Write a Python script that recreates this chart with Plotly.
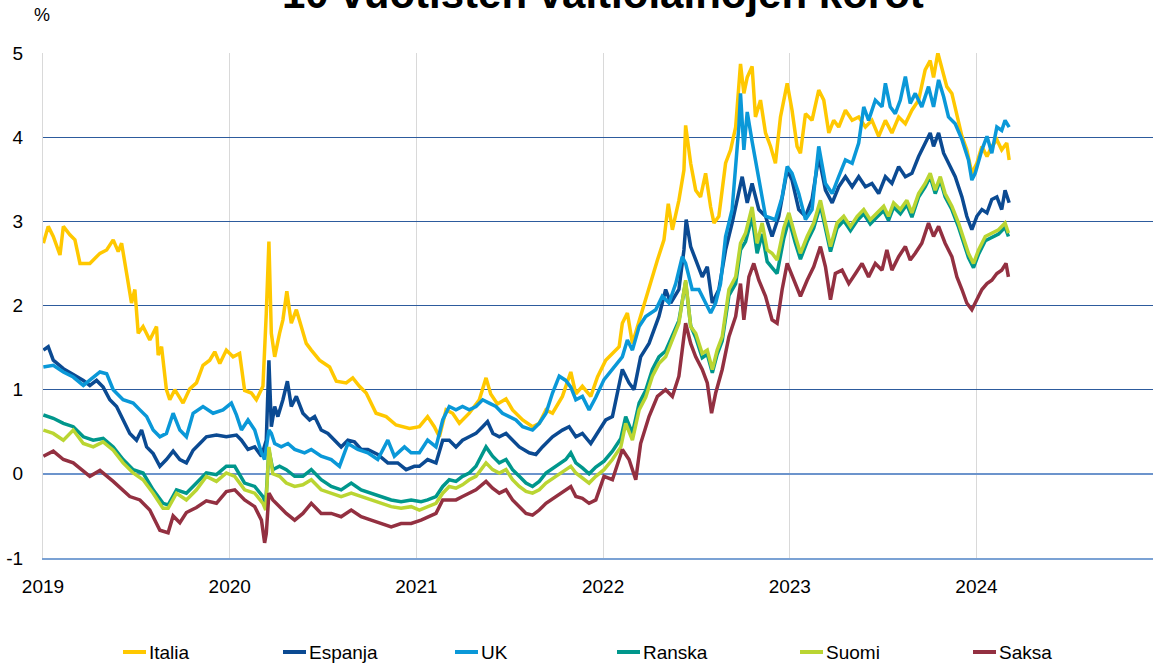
import plotly.graph_objects as go

# ---- data: (decimal year, yield %) ----
italia = [(2019.002, 2.74), (2019.028, 2.94), (2019.055, 2.82), (2019.091, 2.60), (2019.109, 2.94), (2019.144, 2.84),
          (2019.171, 2.78), (2019.198, 2.50), (2019.251, 2.50), (2019.305, 2.62), (2019.341, 2.66), (2019.376, 2.78),
          (2019.403, 2.64), (2019.421, 2.74), (2019.448, 2.38), (2019.474, 2.03), (2019.492, 2.19), (2019.510, 1.67),
          (2019.536, 1.75), (2019.572, 1.59), (2019.608, 1.75), (2019.617, 1.41), (2019.635, 1.51), (2019.661, 1.00),
          (2019.679, 0.88), (2019.706, 1.00), (2019.750, 0.84), (2019.786, 1.01), (2019.822, 1.08), (2019.857, 1.29),
          (2019.893, 1.35), (2019.920, 1.45), (2019.947, 1.31), (2019.982, 1.47), (2020.018, 1.39), (2020.053, 1.43),
          (2020.080, 0.99), (2020.116, 0.96), (2020.143, 0.88), (2020.178, 1.04), (2020.196, 1.91), (2020.210, 2.76),
          (2020.223, 1.67), (2020.241, 1.39), (2020.267, 1.67), (2020.285, 1.83), (2020.306, 2.17), (2020.330, 1.79),
          (2020.357, 1.95), (2020.383, 1.75), (2020.410, 1.55), (2020.437, 1.47), (2020.481, 1.35), (2020.535, 1.27),
          (2020.571, 1.10), (2020.624, 1.08), (2020.659, 1.14), (2020.695, 1.04), (2020.731, 0.96), (2020.784, 0.72),
          (2020.838, 0.68), (2020.891, 0.58), (2020.963, 0.54), (2021.016, 0.56), (2021.060, 0.68), (2021.096, 0.56),
          (2021.123, 0.44), (2021.159, 0.76), (2021.194, 0.72), (2021.230, 0.60), (2021.283, 0.72), (2021.337, 0.88),
          (2021.373, 1.14), (2021.398, 0.95), (2021.434, 0.83), (2021.480, 0.89), (2021.515, 0.76), (2021.569, 0.64),
          (2021.622, 0.56), (2021.658, 0.60), (2021.694, 0.76), (2021.729, 0.72), (2021.782, 0.92), (2021.827, 1.21),
          (2021.854, 0.95), (2021.889, 1.04), (2021.934, 0.92), (2021.970, 1.15), (2022.014, 1.35), (2022.050, 1.43),
          (2022.086, 1.51), (2022.103, 1.79), (2022.130, 1.91), (2022.157, 1.55), (2022.183, 1.74), (2022.219, 2.03),
          (2022.255, 2.30), (2022.291, 2.54), (2022.326, 2.78), (2022.349, 3.21), (2022.371, 2.90), (2022.406, 3.25),
          (2022.433, 3.61), (2022.442, 4.14), (2022.469, 3.69), (2022.496, 3.37), (2022.522, 3.29), (2022.549, 3.57),
          (2022.576, 3.17), (2022.594, 2.98), (2022.620, 3.06), (2022.656, 3.69), (2022.683, 3.85), (2022.710, 4.12),
          (2022.736, 4.87), (2022.754, 4.52), (2022.772, 4.71), (2022.798, 4.84), (2022.816, 4.24), (2022.843, 4.44),
          (2022.870, 4.05), (2022.897, 3.89), (2022.923, 3.69), (2022.950, 4.24), (2022.986, 4.64), (2023.012, 4.32),
          (2023.039, 3.89), (2023.057, 3.81), (2023.084, 4.28), (2023.119, 4.20), (2023.155, 4.56), (2023.182, 4.44),
          (2023.209, 4.05), (2023.235, 4.20), (2023.262, 4.12), (2023.298, 4.32), (2023.334, 4.20), (2023.369, 4.24),
          (2023.405, 4.12), (2023.440, 4.20), (2023.476, 4.01), (2023.512, 4.20), (2023.547, 4.05), (2023.583, 4.24),
          (2023.619, 4.16), (2023.654, 4.32), (2023.690, 4.44), (2023.725, 4.80), (2023.752, 4.91), (2023.770, 4.71),
          (2023.793, 5.00), (2023.815, 4.80), (2023.841, 4.60), (2023.868, 4.52), (2023.895, 4.28), (2023.922, 4.01),
          (2023.948, 3.85), (2023.975, 3.57), (2024.002, 3.69), (2024.029, 3.89), (2024.056, 3.77), (2024.082, 3.89),
          (2024.109, 3.97), (2024.135, 3.85), (2024.162, 3.93), (2024.175, 3.73)]

espanja = [(2019.002, 1.47), (2019.028, 1.51), (2019.055, 1.35), (2019.109, 1.25), (2019.162, 1.18), (2019.216, 1.11),
           (2019.251, 1.05), (2019.287, 1.11), (2019.322, 1.03), (2019.358, 0.88), (2019.394, 0.80), (2019.429, 0.64),
           (2019.465, 0.48), (2019.501, 0.40), (2019.528, 0.52), (2019.555, 0.32), (2019.590, 0.24), (2019.626, 0.09),
           (2019.661, 0.17), (2019.697, 0.27), (2019.733, 0.17), (2019.768, 0.13), (2019.804, 0.28), (2019.840, 0.36),
           (2019.875, 0.44), (2019.929, 0.46), (2019.982, 0.44), (2020.036, 0.46), (2020.063, 0.40), (2020.098, 0.29),
           (2020.134, 0.32), (2020.170, 0.21), (2020.196, 0.40), (2020.210, 1.35), (2020.223, 0.56), (2020.241, 0.80),
           (2020.258, 0.68), (2020.285, 0.88), (2020.309, 1.10), (2020.330, 0.80), (2020.357, 0.92), (2020.392, 0.72),
           (2020.428, 0.64), (2020.455, 0.68), (2020.490, 0.52), (2020.526, 0.48), (2020.561, 0.40), (2020.597, 0.32),
           (2020.633, 0.40), (2020.668, 0.38), (2020.704, 0.29), (2020.740, 0.29), (2020.793, 0.23), (2020.847, 0.13),
           (2020.900, 0.13), (2020.945, 0.05), (2020.989, 0.09), (2021.016, 0.09), (2021.060, 0.17), (2021.105, 0.13),
           (2021.141, 0.40), (2021.176, 0.40), (2021.212, 0.32), (2021.247, 0.40), (2021.283, 0.44), (2021.319, 0.48),
           (2021.355, 0.56), (2021.381, 0.62), (2021.410, 0.48), (2021.444, 0.44), (2021.480, 0.48), (2021.515, 0.40),
           (2021.551, 0.32), (2021.604, 0.25), (2021.640, 0.23), (2021.675, 0.32), (2021.729, 0.44), (2021.782, 0.52),
           (2021.818, 0.56), (2021.854, 0.44), (2021.889, 0.48), (2021.934, 0.36), (2021.970, 0.48), (2022.014, 0.64),
           (2022.050, 0.68), (2022.103, 1.24), (2022.139, 1.08), (2022.166, 1.00), (2022.201, 1.39), (2022.246, 1.55),
           (2022.299, 1.87), (2022.335, 2.19), (2022.362, 2.03), (2022.406, 2.19), (2022.433, 2.66), (2022.445, 3.02),
           (2022.469, 2.70), (2022.496, 2.54), (2022.531, 2.34), (2022.558, 2.46), (2022.585, 2.03), (2022.620, 2.19),
           (2022.656, 2.66), (2022.691, 2.98), (2022.727, 3.37), (2022.745, 3.53), (2022.772, 3.22), (2022.798, 3.45),
           (2022.834, 3.14), (2022.870, 3.06), (2022.905, 2.82), (2022.941, 3.06), (2022.986, 3.61), (2023.012, 3.49),
           (2023.048, 3.14), (2023.084, 3.06), (2023.119, 3.26), (2023.155, 3.77), (2023.191, 3.37), (2023.227, 3.22),
           (2023.262, 3.41), (2023.298, 3.53), (2023.334, 3.41), (2023.369, 3.53), (2023.405, 3.41), (2023.440, 3.45),
           (2023.476, 3.33), (2023.512, 3.53), (2023.547, 3.45), (2023.583, 3.65), (2023.619, 3.53), (2023.654, 3.57),
           (2023.690, 3.77), (2023.725, 3.93), (2023.752, 4.05), (2023.770, 3.89), (2023.797, 4.05), (2023.824, 3.81),
           (2023.850, 3.69), (2023.886, 3.53), (2023.922, 3.29), (2023.948, 3.06), (2023.975, 2.90), (2024.002, 3.06),
           (2024.029, 3.14), (2024.056, 3.10), (2024.082, 3.26), (2024.109, 3.29), (2024.135, 3.14), (2024.153, 3.37),
           (2024.175, 3.22)]

uk = [(2019.002, 1.27), (2019.055, 1.29), (2019.109, 1.21), (2019.162, 1.15), (2019.216, 1.05), (2019.269, 1.15),
      (2019.305, 1.21), (2019.341, 1.19), (2019.376, 1.00), (2019.429, 0.88), (2019.483, 0.84), (2019.519, 0.76),
      (2019.555, 0.68), (2019.590, 0.52), (2019.626, 0.44), (2019.661, 0.48), (2019.697, 0.72), (2019.733, 0.52),
      (2019.768, 0.44), (2019.804, 0.72), (2019.857, 0.80), (2019.911, 0.72), (2019.964, 0.76), (2020.009, 0.84),
      (2020.036, 0.70), (2020.063, 0.52), (2020.098, 0.64), (2020.134, 0.52), (2020.170, 0.25), (2020.187, 0.17),
      (2020.210, 0.52), (2020.223, 0.48), (2020.241, 0.36), (2020.276, 0.32), (2020.312, 0.36), (2020.348, 0.29),
      (2020.401, 0.25), (2020.437, 0.29), (2020.490, 0.21), (2020.544, 0.17), (2020.588, 0.09), (2020.633, 0.36),
      (2020.686, 0.29), (2020.740, 0.25), (2020.793, 0.17), (2020.847, 0.40), (2020.882, 0.21), (2020.936, 0.32),
      (2020.972, 0.25), (2021.016, 0.25), (2021.060, 0.40), (2021.105, 0.32), (2021.141, 0.64), (2021.176, 0.80),
      (2021.212, 0.76), (2021.247, 0.80), (2021.283, 0.76), (2021.319, 0.80), (2021.355, 0.88), (2021.390, 0.84),
      (2021.426, 0.80), (2021.461, 0.72), (2021.497, 0.68), (2021.533, 0.64), (2021.569, 0.56), (2021.622, 0.52),
      (2021.658, 0.60), (2021.694, 0.72), (2021.729, 0.96), (2021.765, 1.16), (2021.800, 1.11), (2021.827, 1.03),
      (2021.854, 0.88), (2021.889, 0.92), (2021.925, 0.76), (2021.961, 0.91), (2022.005, 1.12), (2022.050, 1.24),
      (2022.103, 1.39), (2022.130, 1.59), (2022.157, 1.47), (2022.193, 1.75), (2022.228, 1.87), (2022.282, 1.95),
      (2022.317, 2.11), (2022.353, 2.03), (2022.389, 2.26), (2022.424, 2.58), (2022.442, 2.50), (2022.477, 2.19),
      (2022.513, 2.19), (2022.549, 2.03), (2022.576, 1.91), (2022.603, 2.03), (2022.629, 2.26), (2022.656, 2.82),
      (2022.691, 3.14), (2022.727, 4.12), (2022.736, 4.52), (2022.754, 3.85), (2022.772, 4.30), (2022.798, 3.95),
      (2022.834, 3.50), (2022.870, 3.06), (2022.923, 3.02), (2022.959, 3.29), (2022.986, 3.65), (2023.012, 3.57),
      (2023.048, 3.33), (2023.084, 3.02), (2023.119, 3.14), (2023.155, 3.89), (2023.191, 3.45), (2023.227, 3.33),
      (2023.262, 3.53), (2023.298, 3.73), (2023.334, 3.69), (2023.369, 3.93), (2023.396, 4.36), (2023.422, 4.20),
      (2023.458, 4.44), (2023.494, 4.36), (2023.512, 4.64), (2023.538, 4.36), (2023.565, 4.28), (2023.592, 4.44),
      (2023.619, 4.72), (2023.645, 4.40), (2023.672, 4.52), (2023.707, 4.36), (2023.743, 4.60), (2023.770, 4.36),
      (2023.797, 4.68), (2023.824, 4.48), (2023.850, 4.24), (2023.886, 4.16), (2023.922, 3.97), (2023.957, 3.73),
      (2023.975, 3.49), (2023.993, 3.57), (2024.029, 3.85), (2024.056, 4.01), (2024.082, 3.81), (2024.109, 4.12),
      (2024.135, 4.08), (2024.153, 4.20), (2024.175, 4.12)]

ranska = [(2019.002, 0.70), (2019.055, 0.66), (2019.109, 0.60), (2019.162, 0.56), (2019.216, 0.44), (2019.269, 0.40),
          (2019.322, 0.42), (2019.376, 0.32), (2019.429, 0.17), (2019.483, 0.05), (2019.536, 0.01), (2019.590, -0.19),
          (2019.643, -0.35), (2019.670, -0.37), (2019.715, -0.19), (2019.768, -0.23), (2019.822, -0.11), (2019.875, 0.01),
          (2019.929, -0.01), (2019.982, 0.09), (2020.027, 0.09), (2020.080, -0.11), (2020.134, -0.15), (2020.178, -0.27),
          (2020.193, -0.35), (2020.210, 0.28), (2020.231, 0.05), (2020.267, 0.09), (2020.303, 0.05), (2020.348, -0.03),
          (2020.392, -0.03), (2020.437, 0.05), (2020.490, -0.07), (2020.544, -0.15), (2020.597, -0.19), (2020.651, -0.11),
          (2020.704, -0.19), (2020.758, -0.23), (2020.811, -0.27), (2020.865, -0.31), (2020.918, -0.33), (2020.972, -0.31),
          (2021.025, -0.33), (2021.060, -0.31), (2021.105, -0.27), (2021.141, -0.15), (2021.176, -0.07), (2021.212, -0.09),
          (2021.247, -0.03), (2021.283, 0.01), (2021.319, 0.09), (2021.373, 0.32), (2021.408, 0.21), (2021.444, 0.13),
          (2021.480, 0.17), (2021.515, 0.05), (2021.551, -0.03), (2021.587, -0.11), (2021.622, -0.15), (2021.658, -0.09),
          (2021.694, 0.01), (2021.747, 0.09), (2021.800, 0.17), (2021.827, 0.25), (2021.854, 0.13), (2021.889, 0.07),
          (2021.925, 0.00), (2021.961, 0.08), (2022.005, 0.15), (2022.050, 0.27), (2022.095, 0.42), (2022.121, 0.68),
          (2022.157, 0.48), (2022.193, 0.84), (2022.228, 0.99), (2022.264, 1.24), (2022.299, 1.39), (2022.335, 1.46),
          (2022.371, 1.64), (2022.406, 1.82), (2022.442, 2.28), (2022.469, 1.76), (2022.496, 1.62), (2022.531, 1.38),
          (2022.558, 1.42), (2022.585, 1.20), (2022.611, 1.42), (2022.638, 1.58), (2022.674, 2.12), (2022.710, 2.26),
          (2022.736, 2.66), (2022.763, 2.76), (2022.798, 3.05), (2022.825, 2.62), (2022.852, 2.85), (2022.879, 2.52),
          (2022.905, 2.45), (2022.932, 2.38), (2022.968, 2.80), (2022.995, 3.02), (2023.030, 2.74), (2023.057, 2.55),
          (2023.093, 2.76), (2023.128, 2.92), (2023.164, 3.19), (2023.191, 2.93), (2023.218, 2.64), (2023.253, 2.92),
          (2023.289, 3.01), (2023.325, 2.89), (2023.361, 3.01), (2023.396, 3.09), (2023.431, 2.97), (2023.467, 3.05),
          (2023.503, 3.13), (2023.529, 3.01), (2023.556, 3.17), (2023.592, 3.09), (2023.627, 3.20), (2023.654, 3.05),
          (2023.690, 3.29), (2023.725, 3.41), (2023.752, 3.53), (2023.779, 3.33), (2023.806, 3.49), (2023.832, 3.29),
          (2023.868, 3.14), (2023.904, 2.93), (2023.931, 2.73), (2023.957, 2.57), (2023.984, 2.45), (2024.011, 2.61),
          (2024.047, 2.77), (2024.082, 2.81), (2024.118, 2.85), (2024.153, 2.93), (2024.171, 2.82)]

suomi = [(2019.002, 0.52), (2019.055, 0.48), (2019.109, 0.40), (2019.162, 0.52), (2019.216, 0.36), (2019.269, 0.32),
         (2019.322, 0.38), (2019.376, 0.28), (2019.429, 0.13), (2019.483, 0.01), (2019.536, -0.07), (2019.590, -0.23),
         (2019.643, -0.41), (2019.670, -0.41), (2019.715, -0.23), (2019.768, -0.31), (2019.822, -0.19), (2019.875, -0.03),
         (2019.929, -0.09), (2019.982, 0.01), (2020.027, -0.03), (2020.080, -0.19), (2020.134, -0.23), (2020.178, -0.35),
         (2020.193, -0.43), (2020.210, 0.32), (2020.231, 0.00), (2020.267, -0.03), (2020.303, -0.11), (2020.348, -0.15),
         (2020.392, -0.13), (2020.437, -0.07), (2020.490, -0.19), (2020.544, -0.23), (2020.597, -0.27), (2020.651, -0.23),
         (2020.704, -0.27), (2020.758, -0.31), (2020.811, -0.35), (2020.865, -0.39), (2020.918, -0.41), (2020.972, -0.39),
         (2021.016, -0.43), (2021.060, -0.39), (2021.105, -0.35), (2021.141, -0.23), (2021.176, -0.15), (2021.212, -0.17),
         (2021.247, -0.13), (2021.283, -0.07), (2021.319, -0.03), (2021.373, 0.13), (2021.408, 0.05), (2021.444, 0.01),
         (2021.480, 0.05), (2021.515, -0.07), (2021.551, -0.15), (2021.587, -0.21), (2021.622, -0.23), (2021.658, -0.19),
         (2021.694, -0.11), (2021.747, -0.03), (2021.800, 0.05), (2021.827, 0.09), (2021.854, 0.01), (2021.889, -0.05),
         (2021.925, -0.11), (2021.961, -0.03), (2022.005, 0.05), (2022.050, 0.17), (2022.095, 0.32), (2022.121, 0.60),
         (2022.157, 0.40), (2022.193, 0.76), (2022.228, 0.91), (2022.264, 1.16), (2022.299, 1.31), (2022.335, 1.39),
         (2022.371, 1.59), (2022.406, 1.79), (2022.442, 2.30), (2022.469, 1.75), (2022.496, 1.67), (2022.531, 1.43),
         (2022.558, 1.47), (2022.585, 1.24), (2022.611, 1.47), (2022.638, 1.63), (2022.674, 2.19), (2022.710, 2.34),
         (2022.736, 2.74), (2022.763, 2.86), (2022.798, 3.17), (2022.825, 2.74), (2022.852, 2.98), (2022.879, 2.66),
         (2022.905, 2.62), (2022.932, 2.54), (2022.968, 2.92), (2022.995, 3.10), (2023.030, 2.82), (2023.057, 2.62),
         (2023.093, 2.82), (2023.128, 2.98), (2023.164, 3.25), (2023.191, 2.98), (2023.218, 2.70), (2023.253, 2.98),
         (2023.289, 3.06), (2023.325, 2.94), (2023.361, 3.06), (2023.396, 3.14), (2023.431, 3.02), (2023.467, 3.10),
         (2023.503, 3.18), (2023.529, 3.06), (2023.556, 3.22), (2023.592, 3.14), (2023.627, 3.25), (2023.654, 3.10),
         (2023.690, 3.33), (2023.725, 3.45), (2023.752, 3.57), (2023.779, 3.37), (2023.806, 3.53), (2023.832, 3.33),
         (2023.868, 3.18), (2023.904, 2.98), (2023.931, 2.78), (2023.957, 2.62), (2023.984, 2.50), (2024.011, 2.66),
         (2024.047, 2.82), (2024.082, 2.86), (2024.118, 2.90), (2024.153, 2.98), (2024.171, 2.86)]

saksa = [(2019.002, 0.21), (2019.055, 0.27), (2019.109, 0.17), (2019.162, 0.13), (2019.251, -0.03), (2019.305, 0.04),
         (2019.376, -0.09), (2019.465, -0.27), (2019.519, -0.31), (2019.572, -0.43), (2019.626, -0.67), (2019.670, -0.70),
         (2019.697, -0.50), (2019.733, -0.58), (2019.768, -0.46), (2019.822, -0.40), (2019.875, -0.32), (2019.929, -0.35),
         (2019.982, -0.21), (2020.027, -0.19), (2020.080, -0.31), (2020.134, -0.39), (2020.170, -0.55), (2020.187, -0.82),
         (2020.196, -0.71), (2020.210, -0.23), (2020.231, -0.31), (2020.267, -0.39), (2020.303, -0.47), (2020.348, -0.55),
         (2020.392, -0.47), (2020.437, -0.35), (2020.490, -0.47), (2020.544, -0.47), (2020.597, -0.51), (2020.651, -0.43),
         (2020.704, -0.51), (2020.758, -0.55), (2020.811, -0.59), (2020.865, -0.63), (2020.918, -0.59), (2020.972, -0.59),
         (2021.025, -0.55), (2021.060, -0.51), (2021.105, -0.47), (2021.141, -0.31), (2021.176, -0.31), (2021.212, -0.31),
         (2021.247, -0.27), (2021.283, -0.23), (2021.319, -0.19), (2021.373, -0.09), (2021.408, -0.17), (2021.444, -0.23),
         (2021.480, -0.19), (2021.515, -0.31), (2021.551, -0.39), (2021.587, -0.47), (2021.622, -0.49), (2021.658, -0.43),
         (2021.694, -0.35), (2021.747, -0.27), (2021.800, -0.19), (2021.827, -0.15), (2021.854, -0.27), (2021.889, -0.29),
         (2021.925, -0.35), (2021.961, -0.31), (2022.005, -0.03), (2022.050, -0.07), (2022.103, 0.29), (2022.139, 0.17),
         (2022.175, -0.07), (2022.201, 0.36), (2022.246, 0.68), (2022.291, 0.92), (2022.335, 1.00), (2022.371, 0.92),
         (2022.406, 1.16), (2022.442, 1.79), (2022.469, 1.55), (2022.496, 1.39), (2022.531, 1.24), (2022.558, 1.08),
         (2022.581, 0.72), (2022.603, 0.96), (2022.638, 1.24), (2022.674, 1.63), (2022.710, 1.87), (2022.736, 2.26),
         (2022.754, 1.83), (2022.781, 2.34), (2022.807, 2.50), (2022.834, 2.30), (2022.870, 2.11), (2022.905, 1.83),
         (2022.932, 1.79), (2022.959, 2.19), (2022.986, 2.50), (2023.030, 2.26), (2023.057, 2.11), (2023.093, 2.30),
         (2023.128, 2.46), (2023.164, 2.70), (2023.191, 2.46), (2023.218, 2.07), (2023.244, 2.38), (2023.280, 2.42),
         (2023.316, 2.26), (2023.352, 2.38), (2023.387, 2.50), (2023.422, 2.34), (2023.458, 2.50), (2023.494, 2.42),
         (2023.520, 2.66), (2023.547, 2.42), (2023.583, 2.58), (2023.619, 2.70), (2023.645, 2.54), (2023.672, 2.62),
         (2023.707, 2.74), (2023.743, 2.98), (2023.770, 2.82), (2023.797, 2.94), (2023.832, 2.74), (2023.868, 2.58),
         (2023.895, 2.34), (2023.922, 2.19), (2023.948, 2.03), (2023.975, 1.95), (2024.002, 2.07), (2024.029, 2.19),
         (2024.056, 2.26), (2024.082, 2.30), (2024.109, 2.38), (2024.135, 2.42), (2024.158, 2.50), (2024.171, 2.34)]

series_names = ["Italia", "Espanja", "UK", "Ranska", "Suomi", "Saksa"]
series_data = [italia, espanja, uk, ranska, suomi, saksa]
series_colors = ["#FFC800", "#0B4A92", "#0A98D8", "#00978C", "#BAD532", "#933041"]

year_ticks = [2019, 2020, 2021, 2022, 2023, 2024]
year_labels = ["2019", "2020", "2021", "2022", "2023", "2024"]
y_ticks = [-1, 0, 1, 2, 3, 4, 5]
y_labels = ["-1", "0", "1", "2", "3", "4", "5"]

title_text = "10 vuotisten valtiolainojen korot"
unit_text = "%"

# ---- layout geometry (pixels) ----
W, H = 1153, 664
ML, MR, MT, MB = 43, 0, 53, 106
PW, PH = W - ML - MR, H - MT - MB
px_per_year = 186.7
x_end = 2019 + PW / px_per_year

FONT = "Arial, 'Liberation Sans', sans-serif"

fig = go.Figure()
for name, data, color in zip(series_names, series_data, series_colors):
    t, v = zip(*data)
    fig.add_trace(go.Scatter(x=list(t), y=list(v), name=name, mode="lines",
                             line=dict(color=color, width=3.5), showlegend=False,
                             hoverinfo="x+y+name"))

def px_to_paper_x(px):
    return (px - ML) / PW

def px_to_paper_y(py):
    return (H - MB - py) / PH

# manual legend matching the original layout
legend_line_px = [123, 283, 455, 617, 800, 973]
legend_y = px_to_paper_y(652)
shapes = []
annotations = []
for name, color, lx in zip(series_names, series_colors, legend_line_px):
    shapes.append(dict(type="line", xref="paper", yref="paper",
                       x0=px_to_paper_x(lx), x1=px_to_paper_x(lx + 23),
                       y0=legend_y, y1=legend_y, line=dict(color=color, width=4)))
    annotations.append(dict(text=name, xref="paper", yref="paper",
                            x=px_to_paper_x(lx + 24), y=legend_y, xanchor="left", yanchor="middle",
                            showarrow=False, font=dict(family=FONT, size=19, color="#000000")))

annotations.append(dict(text=unit_text, xref="paper", yref="paper", x=px_to_paper_x(42), y=px_to_paper_y(15),
                        xanchor="center", yanchor="middle", showarrow=False,
                        font=dict(family=FONT, size=18, color="#000000")))
annotations.append(dict(text="<b>" + title_text + "</b>", xref="paper", yref="paper",
                        x=px_to_paper_x(603), y=px_to_paper_y(-6), xanchor="center", yanchor="middle",
                        showarrow=False, font=dict(family=FONT, size=42, color="#000000")))

fig.update_layout(
    width=W, height=H,
    margin=dict(l=ML, r=MR, t=MT, b=MB, pad=0),
    paper_bgcolor="white", plot_bgcolor="white",
    showlegend=False,
    shapes=shapes, annotations=annotations,
    font=dict(family=FONT, size=19, color="#000000"),
    xaxis=dict(range=[2019, x_end], tickmode="array", tickvals=year_ticks, ticktext=year_labels,
               showgrid=True, gridcolor="#D9D9D9", gridwidth=1,
               showline=True, linecolor="#7BA2D4", linewidth=2,
               ticks="", ticklabelstandoff=10, zeroline=False,
               tickfont=dict(family=FONT, size=19, color="#000000")),
    yaxis=dict(range=[-1, 5], tickmode="array", tickvals=y_ticks, ticktext=y_labels,
               showgrid=True, gridcolor="#2D5B9D", gridwidth=1.3,
               zeroline=True, zerolinecolor="#6C94CC", zerolinewidth=1.8,
               showline=True, linecolor="#D9D9D9", linewidth=1,
               ticks="", ticklabelstandoff=15,
               tickfont=dict(family=FONT, size=19, color="#000000")),
)

fig.write_html("out.html", config={"displayModeBar": False},
               post_script="document.body.style.margin='0';document.body.style.padding='0';")
